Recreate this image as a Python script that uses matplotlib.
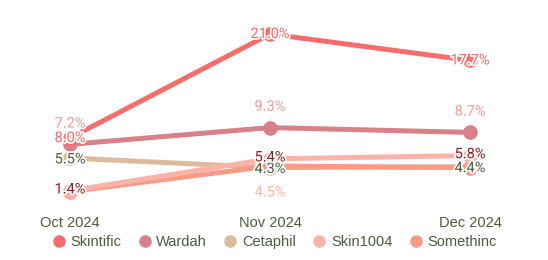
import matplotlib.pyplot as plt
import matplotlib.patheffects as pe
from matplotlib.lines import Line2D

months = ['Oct 2024', 'Nov 2024', 'Dec 2024']
brands = ['Skintific', 'Wardah', 'Cetaphil', 'Skin1004', 'Somethinc']

skintific = [8.0, 21.0, 17.7]
wardah = [7.2, 9.3, 8.7]
cetaphil = [5.5, 4.3, 4.4]
skin1004 = [1.4, 5.4, 5.8]
somethinc = [1.3, 4.5, 4.3]

# line colours, label colours, label offset (pt), zorder
line_colors = ['#f76c6d', '#d98088', '#dbbb9d', '#fcb3a7', '#fb9a84']
label_colors = ['#f26b6b', '#eb9b9d', '#4b5d3c', '#8f1c1f', '#fcb4a6']
label_dy = [0, 15, -1, 1, -19]
zorders = [6, 5, 2, 4, 3]
hidden = {('Somethinc', 0), ('Somethinc', 2)}

series = [skintific, wardah, cetaphil, skin1004, somethinc]
text_color = '#4b5d3c'

fig = plt.figure(figsize=(5.48, 2.6), dpi=100)
ax = fig.add_axes([70 / 548, 58 / 260, 400 / 548, 182 / 260])
x = list(range(len(months)))

for name, vals, lc, tc, dy, z in zip(brands, series, line_colors, label_colors, label_dy, zorders):
    ax.plot(x, vals, color=lc, lw=3.6, marker='o', markersize=9.5,
            solid_capstyle='round', zorder=z, clip_on=False)
    for i, v in enumerate(vals):
        if (name, i) in hidden:
            continue
        if dy > 5:
            ax.plot([i, i], [v, v + 1.2], color='#e6e6e6', lw=0.8, zorder=1)
        t = ax.annotate(f'{v:.1f}%', (i, v), xytext=(0, dy), textcoords='offset points',
                        ha='center', va='center', fontsize=10.5, color=tc, family='Roboto',
                        zorder=10 + z, annotation_clip=False)
        t.set_path_effects([pe.withStroke(linewidth=2.5, foreground='white')])

ax.set_xlim(0, 2)
ax.set_ylim(0, 22.75)
ax.set_xticks(x)
ax.set_xticklabels(months, fontsize=10.5, color=text_color, family='Liberation Sans')
ax.tick_params(axis='x', length=0, pad=10)
ax.set_yticks([])
for s in ax.spines.values():
    s.set_visible(False)

handles = [Line2D([], [], ls='none', marker='o', markersize=8, color=c) for c in line_colors]
leg = fig.legend(handles, brands, loc='center', bbox_to_anchor=(0.5, 18 / 260), ncol=5,
                 frameon=False, prop={'family': 'Liberation Sans', 'size': 10.5},
                 handletextpad=0.3, columnspacing=1.1, handlelength=1.0)
for t in leg.get_texts():
    t.set_color(text_color)

fig.savefig('out.png', dpi=100)
